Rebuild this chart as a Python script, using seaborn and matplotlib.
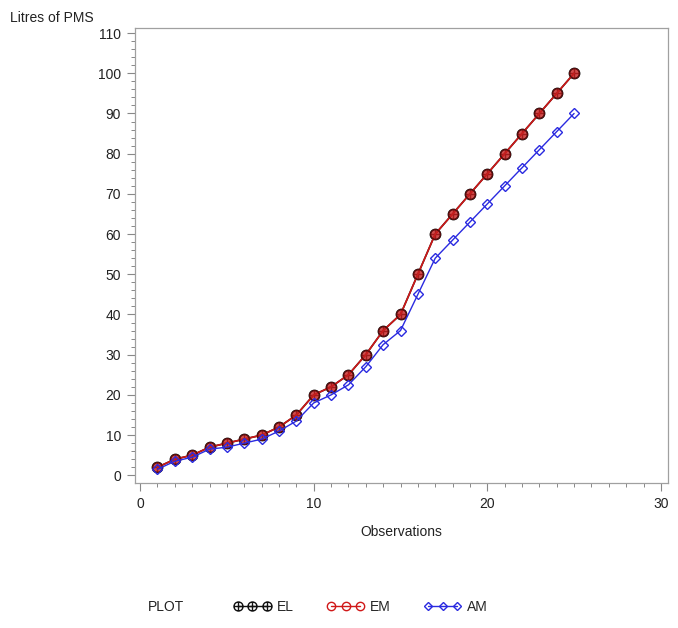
import matplotlib
matplotlib.use("Agg")
import matplotlib.pyplot as plt
from matplotlib.path import Path
from matplotlib.lines import Line2D
from matplotlib.ticker import MultipleLocator
import seaborn as sns
import pandas as pd

obs = list(range(1, 26))
el = [2, 4, 5, 7, 8, 9, 10, 12, 15, 20, 22, 25, 30, 36, 40, 50, 60, 65, 70, 75, 80, 85, 90, 95, 100]
em = [2, 4, 5, 7, 8, 9, 10, 12, 15, 20, 22, 25, 30, 36, 40, 50, 60, 65, 70, 75, 80, 85, 90, 95, 100]
am = [1.5, 3.5, 4.5, 6.5, 7, 8, 9, 11, 13.5, 18, 20, 22.5, 27, 32.5, 36, 45, 54, 58.5, 63, 67.5, 72, 76.5, 81, 85.5, 90]

df = pd.DataFrame({"Observations": obs, "EL": el, "EM": em, "AM": am})

sns.set_style("white")
plt.rcParams["font.family"] = ["Liberation Sans", "DejaVu Sans"]

# circle with a plus inside, like SAS's EL symbol
circ_plus = Path.make_compound_path(
    Path.unit_circle(),
    Path([[-1, 0], [1, 0]], [Path.MOVETO, Path.LINETO]),
    Path([[0, -1], [0, 1]], [Path.MOVETO, Path.LINETO]),
)

black = "#111111"
red = "#d01818"
blue = "#2a2ae0"

fig = plt.figure(figsize=(6.78, 6.28), dpi=100)
ax = fig.add_axes([0.199, 0.231, 0.786, 0.724])

sns.lineplot(data=df, x="Observations", y="EL", ax=ax, color=black, marker=circ_plus,
             markersize=7.5, markerfacecolor="none", markeredgecolor=black,
             markeredgewidth=1.0, linewidth=1.2)
sns.lineplot(data=df, x="Observations", y="EM", ax=ax, color=red, marker="o",
             markersize=7, markerfacecolor=(0.78, 0.12, 0.12, 0.8), markeredgecolor=(0.35, 0.05, 0.05),
             markeredgewidth=1.0, linewidth=1.2)
sns.lineplot(data=df, x="Observations", y="AM", ax=ax, color=blue, marker="D",
             markersize=5, markerfacecolor="none", markeredgecolor=blue,
             markeredgewidth=1.0, linewidth=1.0)

ax.set_xlim(-0.3, 30.4)
ax.set_ylim(-1.9, 111.2)
ax.xaxis.set_major_locator(MultipleLocator(10))
ax.xaxis.set_minor_locator(MultipleLocator(1))
ax.yaxis.set_major_locator(MultipleLocator(10))
ax.yaxis.set_minor_locator(MultipleLocator(2))
ax.tick_params(axis="both", which="major", direction="out", length=6, width=0.8,
               color="#888888", labelsize=10, labelcolor="#222222", pad=4)
ax.tick_params(axis="both", which="minor", direction="out", length=3, width=0.7,
               color="#888888")
ax.tick_params(axis="x", which="both", bottom=True)
ax.tick_params(axis="y", which="both", left=True)
for sp in ax.spines.values():
    sp.set_color("#a0a0a0")
    sp.set_linewidth(0.9)

ax.set_xlabel("Observations", fontsize=10, color="#222222", labelpad=10)
ax.set_ylabel("")
fig.text(0.015, 0.972, "Litres of PMS", fontsize=10, color="#222222", va="center", ha="left")

handles = [
    Line2D([], [], color=black, marker=circ_plus, markersize=6.5, markerfacecolor="none",
           markeredgecolor=black, linewidth=1.0),
    Line2D([], [], color=red, marker="o", markersize=6, markerfacecolor="none",
           markeredgecolor=red, linewidth=1.0),
    Line2D([], [], color=blue, marker="D", markersize=4, markerfacecolor="none",
           markeredgecolor=blue, linewidth=1.0),
]
fig.text(0.218, 0.033, "PLOT", fontsize=10, color="#222222", va="center", ha="left")
fig.legend(handles, ["EL", "EM", "AM"], loc="center left", bbox_to_anchor=(0.326, 0.033),
           ncol=3, frameon=False, numpoints=3, handlelength=2.7, handletextpad=0.4,
           columnspacing=2.4, fontsize=10)

fig.savefig("out.png", dpi=100)
